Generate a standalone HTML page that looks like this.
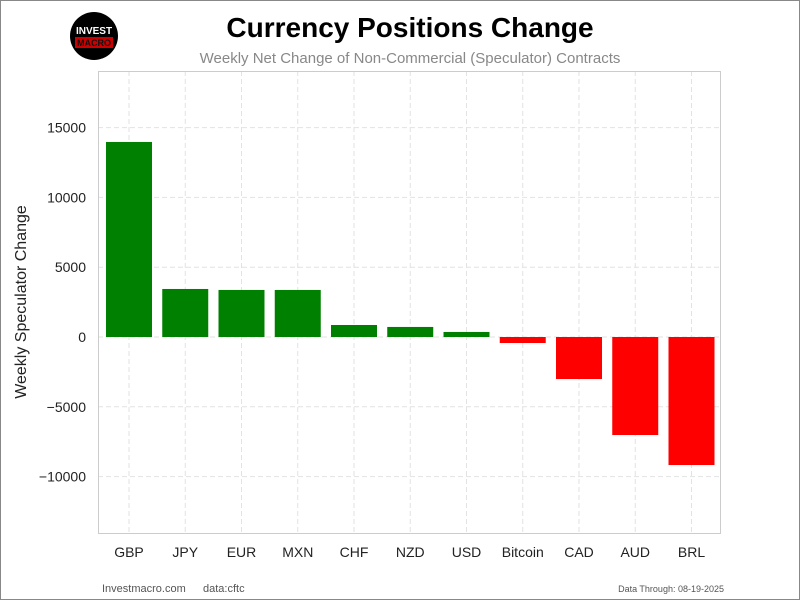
<!DOCTYPE html>
<html><head><meta charset="utf-8"><style>
body{margin:0;background:#fff}
svg{display:block;font-family:"Liberation Sans",sans-serif}
</style></head><body>
<svg id="c" width="800" height="600">
<rect x="0.5" y="0.5" width="799" height="599" fill="#fff" stroke="#888"/>
<g>
<circle cx="94" cy="36" r="24" fill="#000"/>
<text x="94" y="34" text-anchor="middle" font-size="10" font-weight="bold" fill="#fff">INVEST</text>
<rect x="75" y="37" width="38" height="11" fill="#c00"/>
<text x="94" y="46" text-anchor="middle" font-size="9" font-weight="bold" fill="#111">MACRO</text>
</g>
<text x="410" y="37" text-anchor="middle" font-size="28" font-weight="bold" fill="#000">Currency Positions Change</text>
<text x="410" y="63" text-anchor="middle" font-size="15" fill="#888">Weekly Net Change of Non-Commercial (Speculator) Contracts</text>
<text transform="translate(26,302) rotate(-90)" text-anchor="middle" font-size="16" fill="#222">Weekly Speculator Change</text>
<g id="grid"></g><g id="bars"></g><g id="axes"></g>
<rect x="98.5" y="71.5" width="622" height="462" fill="none" stroke="#ccc"/>
<text x="102" y="592" font-size="11" fill="#555">Investmacro.com</text>
<text x="203" y="592" font-size="11" fill="#555">data:cftc</text>
<text x="724" y="592" text-anchor="end" font-size="9" fill="#555">Data Through: 08-19-2025</text>
</svg>
<script>
const categories=["GBP","JPY","EUR","MXN","CHF","NZD","USD","Bitcoin","CAD","AUD","BRL"];
const values=[13970,3440,3370,3370,860,720,360,-430,-3010,-7020,-9170];
const yTicks=[-10000,-5000,0,5000,10000,15000];
const yTickLabels=["\u221210000","\u22125000","0","5000","10000","15000"];
const NS="http://www.w3.org/2000/svg";
const yMin=-14040,yMax=19054,pTop=71,pBot=533,pLeft=98,pRight=720;
function y(v){return pBot-(v-yMin)/(yMax-yMin)*(pBot-pTop);}
const step=56.25;
function x(i){return 129+i*step;}
function mk(p,t,a){const e=document.createElementNS(NS,t);for(const k in a)e.setAttribute(k,a[k]);p.appendChild(e);return e;}
const g=document.getElementById('grid'),b=document.getElementById('bars'),ax=document.getElementById('axes');
yTicks.forEach((t,i)=>{
 const l=mk(g,'line',{x1:pLeft,x2:pRight,y1:y(t),y2:y(t),stroke:'#e2e2e2','stroke-dasharray':'5,3'});
 
 
 const tx=mk(ax,'text',{x:pLeft-12,y:y(t)+5,'text-anchor':'end','font-size':14,fill:'#222'});
 tx.textContent=yTickLabels[i];
 
 
});
categories.forEach((c,i)=>{
 const l=mk(g,'line',{x1:x(i),x2:x(i),y1:pTop,y2:pBot,stroke:'#e2e2e2','stroke-dasharray':'5,3'});
 
 
 const v=values[i],y0=y(0),yv=y(v);
 const r=mk(b,'rect',{x:x(i)-23,width:46,y:Math.min(y0,yv),height:Math.abs(yv-y0),fill:v>=0?'#008000':'#ff0000'});
 
 
 const tx=mk(ax,'text',{x:x(i),y:557,'text-anchor':'middle','font-size':14,fill:'#222'});
 tx.textContent=c;
 
 
});
</script>
</body></html>
